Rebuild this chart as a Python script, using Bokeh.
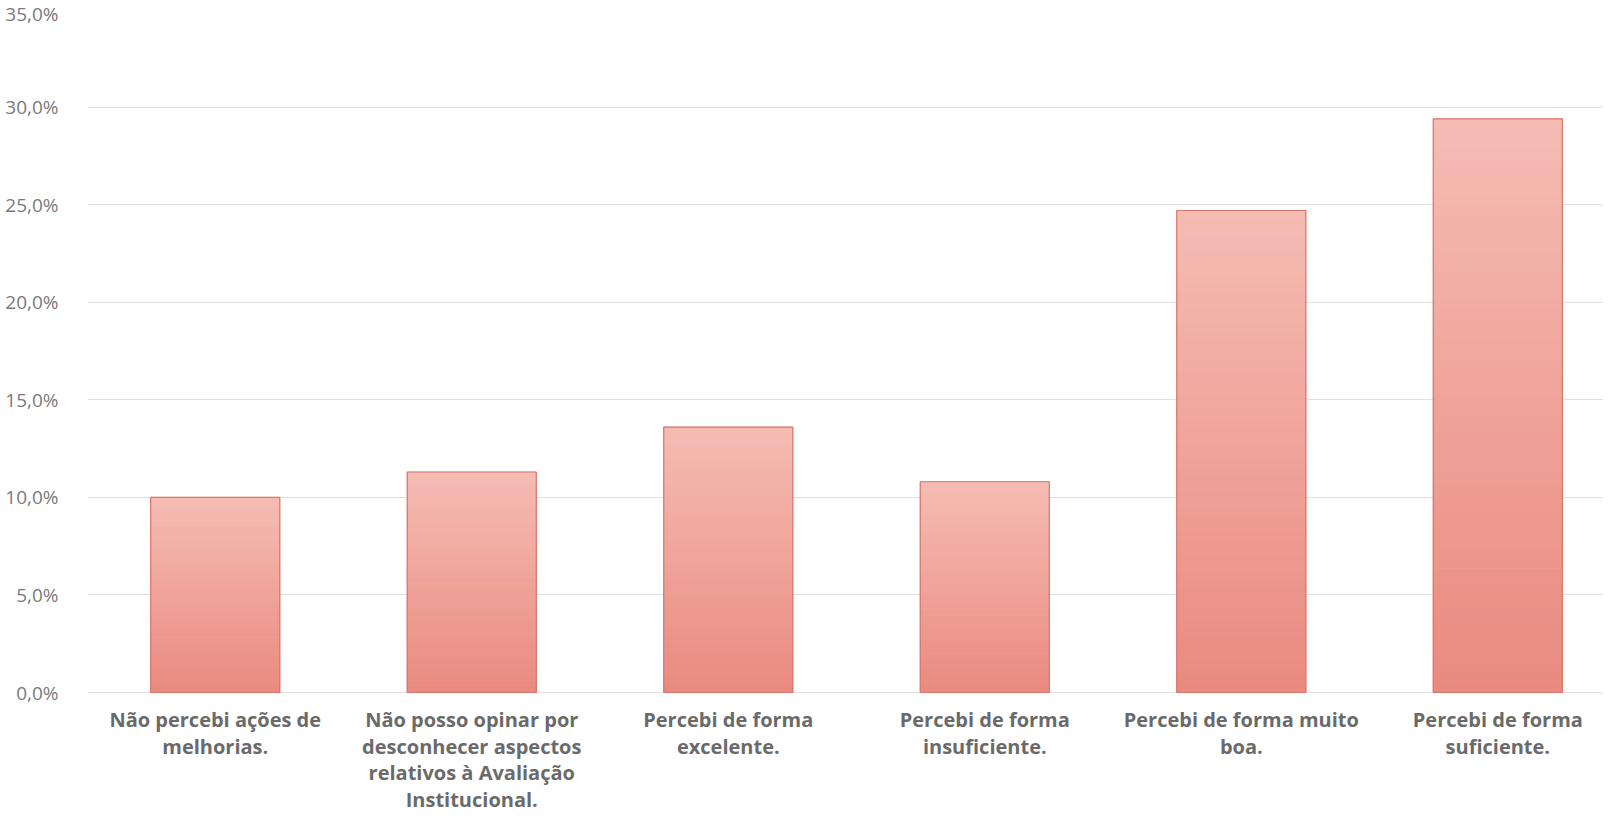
from bokeh.plotting import figure
from bokeh.models import Range1d, FixedTicker, ColumnDataSource
from bokeh.core.properties import value
from bokeh.embed import file_html
from bokeh.resources import INLINE

# ---- data ----
categories = [
    "Não percebi ações de\nmelhorias.",
    "Não posso opinar por\ndesconhecer aspectos\nrelativos à Avaliação\nInstitucional.",
    "Percebi de forma\nexcelente.",
    "Percebi de forma\ninsuficiente.",
    "Percebi de forma muito\nboa.",
    "Percebi de forma\nsuficiente.",
]
values = [0.100, 0.113, 0.136, 0.108, 0.247, 0.294]
y_ticks = [0.0, 0.05, 0.10, 0.15, 0.20, 0.25, 0.30, 0.35]
y_tick_labels = ["0,0%", "5,0%", "10,0%", "15,0%", "20,0%", "25,0%", "30,0%", "35,0%"]

# ---- styling ----
TOP = (245, 188, 180)
BOTTOM = (234, 138, 127)
N_STRIPS = 60
BAR_W = 0.503
LABEL_FIRST = 27      # px below the baseline for the first label line
LABEL_STEP = 26.6     # px between label lines

W, H = 1603, 813
p = figure(width=W, height=H, output_backend="svg", toolbar_location=None,
           x_range=Range1d(-0.498, 5.412), y_range=Range1d(-0.0620, 0.35),
           min_border_left=87, min_border_right=0, min_border_top=9,
           min_border_bottom=0)
p.outline_line_color = None
p.background_fill_color = "white"
p.border_fill_color = "white"

# gradient bars built from strips (fraction of each bar's height)
xs, bots, tops, cols = [], [], [], []
for i, v in enumerate(values):
    for k in range(N_STRIPS):
        f0 = k / N_STRIPS
        f1 = (k + 1) / N_STRIPS
        t = (f0 + f1) / 2
        c = tuple(int(round(BOTTOM[j] + (TOP[j] - BOTTOM[j]) * t)) for j in range(3))
        xs.append(i)
        bots.append(v * f0)
        tops.append(v * f1)
        cols.append("#%02x%02x%02x" % c)
src = ColumnDataSource(dict(x=xs, bottom=bots, top=tops, color=cols))
p.vbar(x="x", bottom="bottom", top="top", width=BAR_W, fill_color="color",
       line_color="color", line_width=1, source=src)
p.vbar(x=list(range(len(values))), top=values, bottom=0, width=BAR_W,
       fill_alpha=0, line_color="#d9776b", line_width=1.2)

# category labels (drawn below the baseline)
lx, ly, lt, loff = [], [], [], []
for i, c in enumerate(categories):
    for k, line in enumerate(c.split("\n")):
        lx.append(i)
        ly.append(0)
        lt.append(line)
        loff.append(LABEL_FIRST + LABEL_STEP * k)
p.text(x=lx, y=ly, text=lt, y_offset=loff, text_align="center",
       text_baseline="middle", text_font=value("Open Sans"),
       text_font_style="bold", text_font_size="20px", text_color="#6a6a6a")

# axes
p.yaxis.ticker = FixedTicker(ticks=y_ticks)
p.yaxis.major_label_overrides = {t: l for t, l in zip(y_ticks, y_tick_labels)}
p.yaxis.axis_line_color = None
p.yaxis.major_tick_line_color = None
p.yaxis.minor_tick_line_color = None
p.yaxis.major_label_text_font = "Open Sans"
p.yaxis.major_label_text_font_size = "19px"
p.yaxis.major_label_text_color = "#7a7a7a"
p.yaxis.major_label_standoff = 23
p.xaxis.visible = False

p.xgrid.grid_line_color = None
p.ygrid.grid_line_color = "#e0e0e0"
p.ygrid.grid_line_width = 1

open("out.html", "w").write(file_html(p, INLINE))
